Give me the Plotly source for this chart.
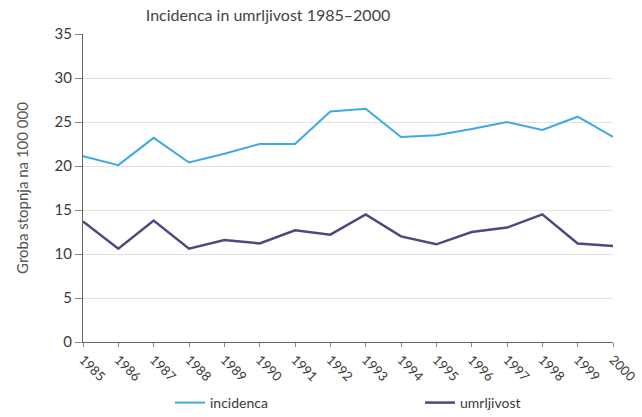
import plotly.graph_objects as go

years = list(range(1985, 2001))
year_labels = [str(y) for y in years]
incidenca = [21.1, 20.1, 23.2, 20.4, 21.4, 22.5, 22.5, 26.2, 26.5, 23.3, 23.5, 24.2, 25.0, 24.1, 25.6, 23.3]
umrljivost = [13.7, 10.6, 13.8, 10.6, 11.6, 11.2, 12.7, 12.2, 14.5, 12.0, 11.1, 12.5, 13.0, 14.5, 11.2, 10.9]
y_ticks = [0, 5, 10, 15, 20, 25, 30, 35]

FONT = "Lato, DejaVu Sans, sans-serif"
TXT = "#3a3a3a"

L, R, T, B = 83, 29, 34, 75
W, H = 642, 417

fig = go.Figure()
fig.add_trace(go.Scatter(x=years, y=incidenca, mode="lines", name="incidenca",
                         line=dict(color="#3fa9e6", width=2), legend="legend"))
fig.add_trace(go.Scatter(x=years, y=umrljivost, mode="lines", name="umrljivost",
                         line=dict(color="#4b4a80", width=2.5), legend="legend2"))

leg_common = dict(orientation="h", xanchor="left", yanchor="middle",
                  xref="container", yref="container",
                  y=1 - 403 / H,
                  font=dict(family=FONT, size=14, color=TXT), bgcolor="rgba(0,0,0,0)")

fig.update_layout(
    width=W, height=H,
    margin=dict(l=L, r=R, t=T, b=B, autoexpand=False),
    paper_bgcolor="white", plot_bgcolor="white",
    font=dict(family=FONT, color=TXT, size=13),
    title=dict(text="Incidenca in umrljivost 1985–2000", x=268/642, xanchor="center",
               xref="container", y=1 - 15/417, yanchor="middle",
               font=dict(family=FONT, size=16, color="#444")),
    showlegend=True,
    legend=dict(x=170 / W, **leg_common),
    legend2=dict(x=420 / W, **leg_common),
)
fig.update_xaxes(range=[1985, 2000], tickvals=years, ticktext=year_labels, tickangle=45,
                 automargin=False,
                 showgrid=False, zeroline=False, showline=True, linecolor="#666", linewidth=1,
                 ticks="outside", ticklen=4, tickcolor="#888",
                 tickfont=dict(family=FONT, size=13, color=TXT))
fig.update_yaxes(range=[0, 35], tickvals=y_ticks, showgrid=True, gridcolor="#e2e2e2", gridwidth=1,
                 automargin=False,
                 zeroline=False, showline=True, linecolor="#666", linewidth=1,
                 ticks="outside", ticklen=7, tickcolor="#888",
                 tickfont=dict(family=FONT, size=15, color=TXT),
                 title=dict(text="Groba stopnja na 100 000", standoff=22,
                            font=dict(family=FONT, size=15, color="#555")))

fig.write_html("out.html", config={"displayModeBar": False},
               post_script="document.body.style.margin='0';")
